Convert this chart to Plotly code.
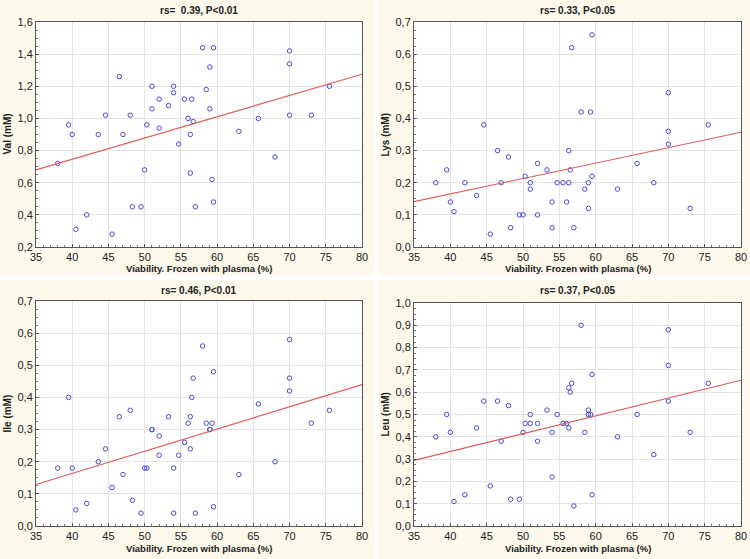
import plotly.graph_objects as go

viability = [38, 39.5, 40, 40.5, 42, 43.6, 44.6, 45.5, 46.5, 47, 48, 48.3, 49.5, 50, 50.3,
             51, 51, 52, 52, 53.3, 54, 54, 54.7, 55.5, 56, 56.3, 56.3, 56.5, 56.7, 57,
             58, 58.5, 59, 59, 59.3, 59.5, 59.5, 63, 65.7, 68, 70, 70, 70, 73, 75.5]

val = [0.72, 0.96, 0.90, 0.31, 0.40, 0.90, 1.02, 0.28, 1.26, 0.90, 1.02, 0.45, 0.45, 0.68, 0.96,
       1.20, 1.06, 1.12, 0.94, 1.08, 1.20, 1.16, 0.84, 1.12, 1.00, 0.90, 0.66, 1.12, 0.98, 0.45,
       1.44, 1.18, 1.32, 1.06, 0.62, 1.44, 0.48, 0.92, 1.00, 0.76, 1.42, 1.34, 1.02, 1.02, 1.20]

lys = [0.20, 0.24, 0.14, 0.11, 0.20, 0.16, 0.38, 0.04, 0.30, 0.20, 0.28, 0.06, 0.10, 0.10, 0.22,
       0.20, 0.18, 0.26, 0.10, 0.24, 0.14, 0.06, 0.20, 0.20, 0.14, 0.20, 0.30, 0.24, 0.62, 0.06,
       0.42, 0.18, 0.20, 0.12, 0.42, 0.66, 0.22, 0.18, 0.26, 0.20, 0.48, 0.36, 0.32, 0.12, 0.38]

ile = [0.18, 0.40, 0.18, 0.05, 0.07, 0.20, 0.24, 0.12, 0.34, 0.16, 0.36, 0.08, 0.04, 0.18, 0.18,
       0.30, 0.30, 0.28, 0.22, 0.34, 0.18, 0.04, 0.22, 0.26, 0.32, 0.34, 0.24, 0.40, 0.46, 0.04,
       0.56, 0.32, 0.30, 0.30, 0.32, 0.48, 0.06, 0.16, 0.38, 0.20, 0.58, 0.46, 0.42, 0.32, 0.36]

leu = [0.40, 0.50, 0.42, 0.11, 0.14, 0.44, 0.56, 0.18, 0.56, 0.38, 0.54, 0.12, 0.12, 0.42, 0.46,
       0.50, 0.46, 0.46, 0.38, 0.52, 0.42, 0.22, 0.50, 0.46, 0.46, 0.62, 0.44, 0.60, 0.64, 0.09,
       0.90, 0.42, 0.52, 0.50, 0.50, 0.68, 0.14, 0.40, 0.50, 0.32, 0.88, 0.72, 0.56, 0.42, 0.64]

# regression line values read at x = 35 and x = 80
trend_x = [35, 80]
val_trend = [0.68, 1.275]
lys_trend = [0.141, 0.357]
ile_trend = [0.129, 0.440]
leu_trend = [0.294, 0.654]

titles = ["rs=  0.39, P<0.01", "rs= 0.33, P<0.05", "rs= 0.46, P<0.01", "rs= 0.37, P<0.05"]
ylabels = ["Val (mM)", "Lys (mM)", "Ile (mM)", "Leu (mM)"]
xlabel = "Viability. Frozen with plasma (%)"
yranges = [(0.2, 1.6), (0.0, 0.7), (0.0, 0.7), (0.0, 1.0)]
ydticks = [0.2, 0.1, 0.1, 0.1]
series = [val, lys, ile, leu]
trends = [val_trend, lys_trend, ile_trend, leu_trend]

W, H = 750, 559
# plot areas in pixels: (left, right, top, bottom)
areas = [(36, 362, 22, 247), (414, 741, 22, 247), (36, 362, 301, 526), (414, 741, 303, 526)]
# cream panel backgrounds in pixels
panels = [(0, 374, 0, 275), (379, 750, 0, 275), (0, 374, 280, 559), (379, 750, 280, 559)]

FONT = "Liberation Sans, Arial, sans-serif"
fig = go.Figure()
shapes = []
annotations = []

for i in range(4):
    xa = "x" if i == 0 else f"x{i+1}"
    ya = "y" if i == 0 else f"y{i+1}"
    fig.add_trace(go.Scatter(x=viability, y=series[i], mode="markers", xaxis=xa, yaxis=ya,
                             marker=dict(symbol="circle-open", size=4.5, color="#4a4ad8",
                                         line=dict(width=1, color="#4a4ad8")),
                             showlegend=False, cliponaxis=False))
    fig.add_trace(go.Scatter(x=trend_x, y=trends[i], mode="lines", xaxis=xa, yaxis=ya,
                             line=dict(color="#e05a5a", width=1.1), showlegend=False))
    l, r, t, b = areas[i]
    dom_x = [l / W, r / W]
    dom_y = [1 - b / H, 1 - t / H]
    axis_common = dict(showline=True, linecolor="#555555", linewidth=1, mirror=True,
                       showgrid=True, gridcolor="#e4e4e4", gridwidth=1, zeroline=False,
                       ticks="inside", ticklen=3, tickcolor="#555555", automargin=False,
                       tickfont=dict(family=FONT, size=11, color="#222222"))
    xkey = "xaxis" if i == 0 else f"xaxis{i+1}"
    ykey = "yaxis" if i == 0 else f"yaxis{i+1}"
    fig.layout[xkey] = dict(domain=dom_x, anchor=ya, range=[35, 80], dtick=5, tick0=35,
                            minor=dict(ticks="inside", dtick=1, ticklen=2, tickcolor="#777777", showgrid=False),
                            **axis_common)
    fig.layout[ykey] = dict(domain=dom_y, anchor=xa, range=list(yranges[i]), dtick=ydticks[i],
                            tick0=0, tickformat=".1f",
                            minor=dict(ticks="inside", dtick=ydticks[i] / 4, ticklen=2,
                                       tickcolor="#777777", showgrid=False),
                            **axis_common)
    pl, pr, pt, pb = panels[i]
    shapes.append(dict(type="rect", xref="paper", yref="paper", layer="below",
                       x0=pl / W, x1=pr / W, y0=1 - pb / H, y1=1 - pt / H,
                       fillcolor="#fcf8ea", line=dict(width=0)))
    shapes.append(dict(type="rect", xref="paper", yref="paper", layer="below",
                       x0=l / W, x1=r / W, y0=1 - b / H, y1=1 - t / H,
                       fillcolor="white", line=dict(width=0)))
    annotations.append(dict(text=f"<b>{titles[i]}</b>", xref="paper", yref="paper",
                            x=(l + r) / 2 / W, y=1 - (pt + 10) / H, showarrow=False,
                            xanchor="center", yanchor="middle",
                            font=dict(family=FONT, size=10, color="#222222")))
    annotations.append(dict(text=f"<b>{xlabel}</b>", xref="paper", yref="paper",
                            x=(l + r) / 2 / W, y=1 - (b + 22) / H, showarrow=False,
                            xanchor="center", yanchor="middle",
                            font=dict(family=FONT, size=9.5, color="#222222")))
    annotations.append(dict(text=f"<b>{ylabels[i]}</b>", xref="paper", yref="paper",
                            x=(l - 29) / W, y=1 - (t + b) / 2 / H, showarrow=False,
                            textangle=-90, xanchor="center", yanchor="middle",
                            font=dict(family=FONT, size=10, color="#222222")))

fig.update_layout(width=W, height=H, margin=dict(l=0, r=0, t=0, b=0, pad=0),
                  paper_bgcolor="white", plot_bgcolor="rgba(0,0,0,0)",
                  separators=",.", shapes=shapes, annotations=annotations,
                  font=dict(family=FONT))

fig.write_html("out.html", config={"displayModeBar": False},
               post_script="document.body.style.margin='0px';")
